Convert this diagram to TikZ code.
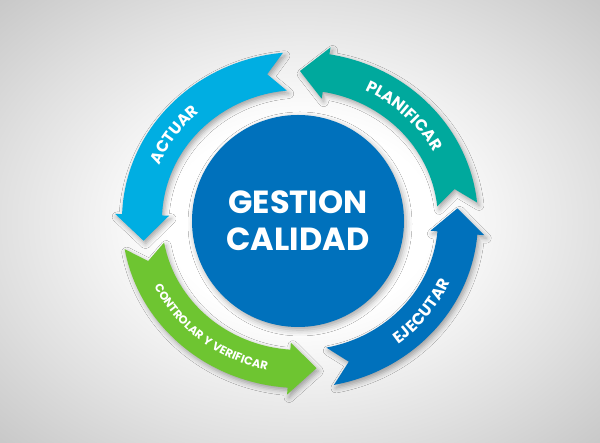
\documentclass[tikz,border=0pt]{standalone}
\usepackage{fontspec}
\setmainfont{Poppins}
\newfontfamily\spacedfont{Poppins}[LetterSpace=6]
\usetikzlibrary{decorations.text,shadows.blur}

\definecolor{planteal}{HTML}{00A99D}
\definecolor{actblue}{HTML}{00AEE2}
\definecolor{ctrlgreen}{HTML}{6EC531}
\definecolor{ejecblue}{HTML}{0071BC}

\pgfdeclareradialshading{backdrop}{\pgfpoint{0bp}{0bp}}{%
  color(0bp)=(white); color(11bp)=(white); color(25bp)=(black!12);
  color(36bp)=(black!22); color(50bp)=(black!22)}

\tikzset{
  bandarrow/.style={blur shadow={shadow xshift=2pt, shadow yshift=-3pt,
      shadow blur radius=5pt, shadow opacity=35}},
  arclabel/.style={decorate, decoration={text along path, text align=center,
      text={#1}}},
  hub/.style={circle, fill=ejecblue, minimum size=212, inner sep=0pt,
      blur shadow={shadow xshift=2pt, shadow yshift=-3pt,
      shadow blur radius=6pt, shadow opacity=35}}
}

\newcommand{\bigarcfont}{\color{white}\spacedfont\bfseries\fontsize{16}{16}\selectfont}
\newcommand{\smallarcfont}{\color{white}\spacedfont\bfseries\fontsize{11.5}{11.5}\selectfont}

\begin{document}
\begin{tikzpicture}[x=1pt, y=1pt]
  % Canvas and backdrop
  \useasboundingbox (0,0) rectangle (600,443);
  \shade[shading=backdrop] (0,0) rectangle (600,443);

  % Centre of the ring (slightly elliptical)
  \coordinate (ring) at (300,223);

  % Ring arrows: tail / notch / head base / tip angles
  \foreach \ta/\tn/\tb/\tt/\col in {6/12/80.5/90/planteal,
      95.5/102/178/188/actblue,
      190/196/266/276/ctrlgreen,
      281/288/355/364.5/ejecblue} {
    \fill[\col, bandarrow]
      ([shift={(\ta:178 and 168)}]ring)
        arc[start angle=\ta, end angle=\tb, x radius=178, y radius=168]
      -- ([shift={(\tb:185 and 175)}]ring)
      -- ([shift={(\tt:158 and 149)}]ring)
      -- ([shift={(\tb:131 and 123)}]ring)
      -- ([shift={(\tb:138 and 130)}]ring)
        arc[start angle=\tb, end angle=\ta, x radius=138, y radius=130]
      -- ([shift={(\tn:158 and 149)}]ring)
      -- cycle;
  }

  % Labels along the arrows
  \path[arclabel={|\bigarcfont|PLANIFICAR}]
    ([shift={(86:152 and 143)}]ring) arc[start angle=86, end angle=6, x radius=152, y radius=143];
  \path[arclabel={|\bigarcfont|ACTUAR}]
    ([shift={(185:152 and 143)}]ring) arc[start angle=185, end angle=105, x radius=152, y radius=143];
  \path[arclabel={|\smallarcfont|CONTROLAR Y VERIFICAR}]
    ([shift={(186:162 and 153)}]ring) arc[start angle=186, end angle=277, x radius=162, y radius=153];
  \path[arclabel={|\bigarcfont|EJECUTAR}]
    ([shift={(282:164 and 155)}]ring) arc[start angle=282, end angle=362, x radius=164, y radius=155];

  % Central disc
  \node[hub] (hub) at (298,222) {};
  \node[text=white, font=\bfseries\fontsize{32}{37}\selectfont, align=center]
    (gestion) at (hub.center) {GESTION\\CALIDAD};

\end{tikzpicture}
\end{document}
